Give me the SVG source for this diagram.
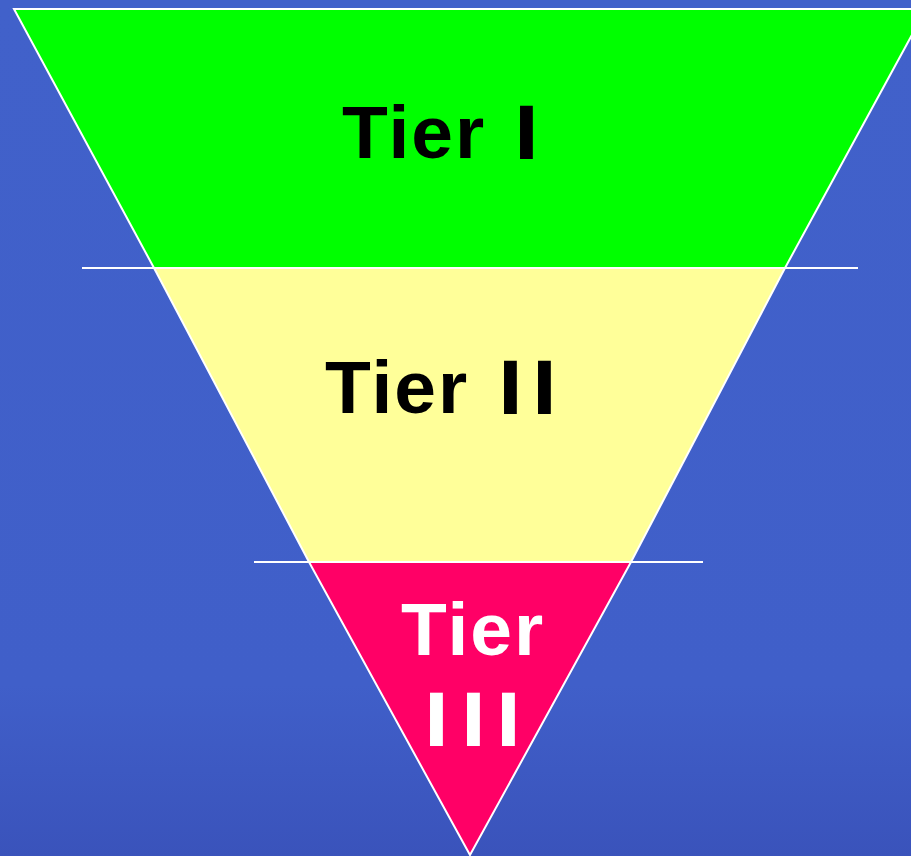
<svg xmlns="http://www.w3.org/2000/svg" width="911" height="856" viewBox="0 0 911 856">
  <defs>
    <linearGradient id="bg" x1="0" y1="0" x2="0" y2="1">
      <stop offset="0" stop-color="#4161CA"/>
      <stop offset="0.8" stop-color="#405FC9"/>
      <stop offset="1" stop-color="#3A53BB"/>
    </linearGradient>
  </defs>
  <style>
    .seg { stroke: #FFFFFF; stroke-width: 2; stroke-linejoin: miter; }
    .div { stroke: #FFFFFF; stroke-width: 2; fill: none; }
    .lbl { font-family: "Liberation Sans", Arial, sans-serif; font-weight: bold; font-size: 75px; letter-spacing: 2px; }
    .num { stroke-width: 2; letter-spacing: 0; }
  </style>
  <rect x="0" y="0" width="911" height="856" fill="url(#bg)"/>

  <g id="tier1">
    <polygon class="seg" fill="#00FF00" points="14,9 926,9 785,268 154,268"/>
    <text class="lbl" x="342" y="158" fill="#000000">Tier<tspan class="num" x="516" stroke="#000000">I</tspan></text>
  </g>

  <g id="tier2">
    <polygon class="seg" fill="#FFFF99" points="154,268 785,268 631,562 309,562"/>
    <text class="lbl" x="325" y="413" fill="#000000">Tier<tspan class="num" x="500 534" stroke="#000000">II</tspan></text>
  </g>

  <g id="tier3">
    <polygon class="seg" fill="#FF0066" points="309,562 631,562 470,855"/>
    <text class="lbl" x="401" y="655" fill="#FFFFFF">Tier</text>
    <text class="lbl num" x="426 463 498" y="745" fill="#FFFFFF" stroke="#FFFFFF">III</text>
  </g>

  <g id="connectors">
    <line class="div" x1="82" y1="268" x2="858" y2="268"/>
    <line class="div" x1="254" y1="562" x2="703" y2="562"/>
  </g>
</svg>
